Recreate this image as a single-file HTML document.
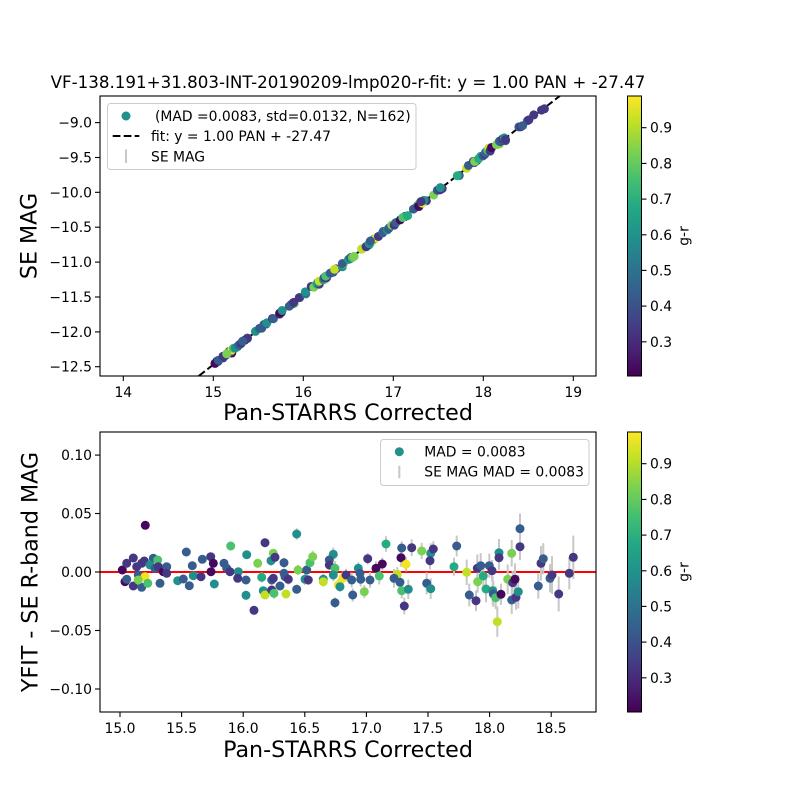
<!DOCTYPE html>
<html><head><meta charset="utf-8">
<style>
html,body{margin:0;padding:0;background:#fff;}
svg{display:block;font-family:"DejaVu Sans","Liberation Sans",sans-serif;}
</style></head><body>
<svg id="s" width="800" height="800" viewBox="0 0 800 800" xmlns="http://www.w3.org/2000/svg">
<defs>
<linearGradient id="vir" x1="0" y1="1" x2="0" y2="0">
<stop offset="0" stop-color="#440154"/>
<stop offset="0.1" stop-color="#482475"/>
<stop offset="0.2" stop-color="#414487"/>
<stop offset="0.3" stop-color="#355f8d"/>
<stop offset="0.4" stop-color="#2a788e"/>
<stop offset="0.5" stop-color="#21918c"/>
<stop offset="0.6" stop-color="#22a884"/>
<stop offset="0.7" stop-color="#44bf70"/>
<stop offset="0.8" stop-color="#7ad151"/>
<stop offset="0.9" stop-color="#bddf26"/>
<stop offset="1" stop-color="#fde725"/>
</linearGradient>
<clipPath id="c1"><rect x="100" y="96" width="496" height="280"/></clipPath>
<clipPath id="c2"><rect x="100" y="432" width="496" height="280"/></clipPath>
</defs>
<rect width="800" height="800" fill="#fff"/>

<!-- Title -->
<text x="348" y="88" font-size="16.7" text-anchor="middle" fill="#000">VF-138.191+31.803-INT-20190209-lmp020-r-fit: y = 1.00 PAN + -27.47</text>

<!-- TOP PANEL -->
<g clip-path="url(#c1)">
<line x1="198.7" y1="376" x2="559.8" y2="96" stroke="#000" stroke-width="2" stroke-dasharray="7.7 3.3"/>
<g id="top"></g>
</g>
<rect x="100" y="96" width="496" height="280" fill="none" stroke="#000" stroke-width="1.1"/>

<g stroke="#000" stroke-width="1.1">
<line x1="123.3" y1="376" x2="123.3" y2="381"/>
<line x1="213.3" y1="376" x2="213.3" y2="381"/>
<line x1="303.3" y1="376" x2="303.3" y2="381"/>
<line x1="393.3" y1="376" x2="393.3" y2="381"/>
<line x1="483.3" y1="376" x2="483.3" y2="381"/>
<line x1="573.3" y1="376" x2="573.3" y2="381"/>
<line x1="95" y1="122.6" x2="100" y2="122.6"/>
<line x1="95" y1="157.5" x2="100" y2="157.5"/>
<line x1="95" y1="192.3" x2="100" y2="192.3"/>
<line x1="95" y1="227.2" x2="100" y2="227.2"/>
<line x1="95" y1="262.1" x2="100" y2="262.1"/>
<line x1="95" y1="297" x2="100" y2="297"/>
<line x1="95" y1="331.9" x2="100" y2="331.9"/>
<line x1="95" y1="366.7" x2="100" y2="366.7"/>
</g>
<g font-size="13.9" fill="#000" text-anchor="middle">
<text x="123.3" y="397">14</text>
<text x="213.3" y="397">15</text>
<text x="303.3" y="397">16</text>
<text x="393.3" y="397">17</text>
<text x="483.3" y="397">18</text>
<text x="573.3" y="397">19</text>
</g>
<g font-size="13.9" fill="#000" text-anchor="end">
<text x="92" y="127.6">−9.0</text>
<text x="92" y="162.5">−9.5</text>
<text x="92" y="197.3">−10.0</text>
<text x="92" y="232.2">−10.5</text>
<text x="92" y="267.1">−11.0</text>
<text x="92" y="302">−11.5</text>
<text x="92" y="336.9">−12.0</text>
<text x="92" y="371.7">−12.5</text>
</g>
<text x="348" y="420" font-size="22.2" text-anchor="middle" fill="#000">Pan-STARRS Corrected</text>
<text transform="translate(36.5,236) rotate(-90)" font-size="22.2" text-anchor="middle" fill="#000">SE MAG</text>

<!-- top legend -->
<rect x="107.5" y="103.5" width="308.5" height="66" rx="3" fill="#fff" fill-opacity="0.8" stroke="#cccccc" stroke-width="1"/>
<circle cx="126" cy="116" r="4.5" fill="#21918c"/>
<text x="155" y="121" font-size="13.9" fill="#000">(MAD =0.0083, std=0.0132, N=162)</text>
<line x1="112.7" y1="136" x2="139.3" y2="136" stroke="#000" stroke-width="2" stroke-dasharray="7.7 3.3"/>
<text x="151" y="141" font-size="13.9" fill="#000">fit: y = 1.00 PAN + -27.47</text>
<line x1="126" y1="149.5" x2="126" y2="163" stroke="#c8c8c8" stroke-width="2"/>
<text x="151" y="161.5" font-size="13.9" fill="#000">SE MAG</text>

<!-- top colorbar -->
<rect x="627.5" y="96" width="14" height="280" fill="url(#vir)" stroke="#000" stroke-width="1"/>
<g stroke="#000" stroke-width="1.1">
<line x1="641.5" y1="127.7" x2="646.5" y2="127.7"/>
<line x1="641.5" y1="163.4" x2="646.5" y2="163.4"/>
<line x1="641.5" y1="199.1" x2="646.5" y2="199.1"/>
<line x1="641.5" y1="234.8" x2="646.5" y2="234.8"/>
<line x1="641.5" y1="270.4" x2="646.5" y2="270.4"/>
<line x1="641.5" y1="306.1" x2="646.5" y2="306.1"/>
<line x1="641.5" y1="341.8" x2="646.5" y2="341.8"/>
</g>
<g font-size="13.9" fill="#000">
<text x="650" y="132.7">0.9</text>
<text x="650" y="168.4">0.8</text>
<text x="650" y="204.1">0.7</text>
<text x="650" y="239.8">0.6</text>
<text x="650" y="275.4">0.5</text>
<text x="650" y="311.1">0.4</text>
<text x="650" y="346.8">0.3</text>
</g>
<text transform="translate(688.5,236) rotate(-90)" font-size="13.9" text-anchor="middle" fill="#000">g-r</text>

<!-- BOTTOM PANEL -->
<g clip-path="url(#c2)">
<line x1="100" y1="572" x2="596" y2="572" stroke="#ff0000" stroke-width="2"/>
<g id="err" stroke="#c8c8c8" stroke-width="2"></g>
<g id="bot"></g>
</g>
<rect x="100" y="432" width="496" height="280" fill="none" stroke="#000" stroke-width="1.1"/>
<g stroke="#000" stroke-width="1.1">
<line x1="120" y1="712" x2="120" y2="717"/>
<line x1="181.6" y1="712" x2="181.6" y2="717"/>
<line x1="243.2" y1="712" x2="243.2" y2="717"/>
<line x1="304.8" y1="712" x2="304.8" y2="717"/>
<line x1="366.4" y1="712" x2="366.4" y2="717"/>
<line x1="428" y1="712" x2="428" y2="717"/>
<line x1="489.6" y1="712" x2="489.6" y2="717"/>
<line x1="551.2" y1="712" x2="551.2" y2="717"/>
<line x1="95" y1="455.1" x2="100" y2="455.1"/>
<line x1="95" y1="513.5" x2="100" y2="513.5"/>
<line x1="95" y1="572" x2="100" y2="572"/>
<line x1="95" y1="630.5" x2="100" y2="630.5"/>
<line x1="95" y1="689" x2="100" y2="689"/>
</g>
<g font-size="13.9" fill="#000" text-anchor="middle">
<text x="120" y="733">15.0</text>
<text x="181.6" y="733">15.5</text>
<text x="243.2" y="733">16.0</text>
<text x="304.8" y="733">16.5</text>
<text x="366.4" y="733">17.0</text>
<text x="428" y="733">17.5</text>
<text x="489.6" y="733">18.0</text>
<text x="551.2" y="733">18.5</text>
</g>
<g font-size="13.9" fill="#000" text-anchor="end">
<text x="92" y="460.1">0.10</text>
<text x="92" y="518.5">0.05</text>
<text x="92" y="577">0.00</text>
<text x="92" y="635.5">−0.05</text>
<text x="92" y="694">−0.10</text>
</g>
<text x="348" y="757" font-size="22.2" text-anchor="middle" fill="#000">Pan-STARRS Corrected</text>
<text transform="translate(37.5,572) rotate(-90)" font-size="22.2" text-anchor="middle" fill="#000">YFIT - SE R-band MAG</text>

<!-- bottom legend -->
<rect x="380.5" y="439.5" width="208.5" height="46" rx="3" fill="#fff" fill-opacity="0.8" stroke="#cccccc" stroke-width="1"/>
<circle cx="399.3" cy="451.7" r="4.5" fill="#21918c"/>
<text x="424.3" y="456.7" font-size="13.9" fill="#000">MAD = 0.0083</text>
<line x1="399.3" y1="465.7" x2="399.3" y2="478.3" stroke="#c8c8c8" stroke-width="2"/>
<text x="424.3" y="476.5" font-size="13.9" fill="#000">SE MAG MAD = 0.0083</text>

<!-- bottom colorbar -->
<rect x="627.5" y="432" width="14" height="280" fill="url(#vir)" stroke="#000" stroke-width="1"/>
<g stroke="#000" stroke-width="1.1">
<line x1="641.5" y1="463.7" x2="646.5" y2="463.7"/>
<line x1="641.5" y1="499.4" x2="646.5" y2="499.4"/>
<line x1="641.5" y1="535.1" x2="646.5" y2="535.1"/>
<line x1="641.5" y1="570.8" x2="646.5" y2="570.8"/>
<line x1="641.5" y1="606.4" x2="646.5" y2="606.4"/>
<line x1="641.5" y1="642.1" x2="646.5" y2="642.1"/>
<line x1="641.5" y1="677.8" x2="646.5" y2="677.8"/>
</g>
<g font-size="13.9" fill="#000">
<text x="650" y="468.7">0.9</text>
<text x="650" y="504.4">0.8</text>
<text x="650" y="540.1">0.7</text>
<text x="650" y="575.8">0.6</text>
<text x="650" y="611.4">0.5</text>
<text x="650" y="647.1">0.4</text>
<text x="650" y="682.8">0.3</text>
</g>
<text transform="translate(688.5,572) rotate(-90)" font-size="13.9" text-anchor="middle" fill="#000">g-r</text>
</svg>
<script>
var P=[
[145.3,525.3,'D'],[122.3,570,'D'],[126.7,563.3,'I'],[133.3,558,'I'],[125,581.7,'D'],[126.7,579.3,'B'],
[133.3,586,'I'],[138.3,575,'B'],[136.7,566.7,'I'],[141.7,587.3,'B'],[144.3,561,'I'],[141.7,563.3,'I'],
[145,576.7,'Y'],[147.7,583.3,'G'],[138.3,580,'LG'],[153.3,558.3,'B'],[157.7,560,'G'],[150,565,'T'],
[155,568.3,'B'],[158.3,566.7,'I'],[163.3,571.7,'D'],[166.7,566.7,'B'],[166.7,573.3,'I'],[160,583.3,'B'],
[177.7,580.7,'T'],[183.3,579,'B'],[186.3,552,'B'],[189.3,585.7,'B'],[192.3,565.7,'B'],[193.3,575.7,'T'],
[201,576.7,'I'],[202.3,559.3,'B'],[210.7,556.7,'I'],[213.3,563.3,'D'],[211,571.7,'D'],[214.3,584,'T'],
[224,563.3,'B'],[230.7,546,'G'],[226.7,568.3,'B'],[230,571.7,'I'],[238.3,571.7,'T'],[237.7,578.3,'I'],
[246.7,554.7,'T'],[246,580,'B'],[246,595.3,'T'],[254,610.3,'I'],[257.7,563.3,'LG'],[261.7,577.3,'TG'],
[265,542.7,'I'],[263.3,590.7,'T'],[265,595,'YG'],[271,560.7,'T'],[271.7,590,'I'],[273.3,553.3,'LG'],
[271.7,580,'B'],[275,557.3,'I'],[273.3,578.3,'I'],[274,593.3,'G'],
[284,562.7,'B'],[284,573.3,'B'],[285,576.7,'B'],[288.3,579.3,'I'],[280,586,'B'],[286,594,'YG'],
[296.7,534,'T'],[298,570,'LG'],[296.7,589.3,'B'],[306.7,570,'B'],[305,579.3,'T'],[308.3,580,'I'],
[310,562.7,'G'],[312.7,556.7,'LG'],[323.3,579.3,'T'],[323.3,581.7,'YG'],[333.3,554.3,'T'],[329.3,560,'B'],
[329.3,565,'I'],[335,568.3,'G'],[333.3,575,'T'],[338.3,585,'Y'],[340,586.7,'T'],[342.7,578.3,'Y'],
[346,575,'I'],[335,602.7,'B'],[351.7,580,'B'],[352.7,595,'B'],[358.3,568.3,'T'],[360,573.3,'B'],
[360.7,579.3,'B'],[364.3,591.7,'LG'],[367.7,558.7,'I'],[370,580,'B'],[376,568.3,'D'],[382.3,564,'D'],
[379.3,576,'G'],[386,544,'TG'],[397.3,574.3,'YG'],[394,578.3,'B'],[400,582.3,'B'],[401.7,590.7,'G'],
[401.7,548,'B'],[401,557.7,'D'],[411.7,547.7,'I'],[406,564.3,'Y'],[408.3,589.3,'T'],[404.3,606,'I'],
[421.7,551,'LG'],[426.7,583.3,'B'],[430.7,553.3,'T'],[430,560.7,'I'],[433.3,549,'I'],[430.7,588.7,'T'],
[456.7,546,'B'],[454,566.7,'TG'],[466.7,572.3,'YG'],[469.3,595,'B'],[476,600.7,'I'],[477.3,568.3,'I'],
[480.7,565.7,'B'],[477.7,581.7,'LG'],[483.3,576,'TG'],[486,589,'TG'],[489.3,565.7,'B'],[492,570.7,'I'],
[492.7,590.7,'T'],[493.3,594,'B'],[495.7,597.7,'G'],[497.3,621.7,'YG'],[499,552.7,'T'],[499,557.7,'I'],
[501,594.3,'D'],[507.7,579.3,'LG'],[511.7,553.3,'LG'],[512.7,582.7,'I'],[515,579.3,'D'],[511.7,600,'B'],
[516,597.3,'I'],[518.3,591.7,'T'],[520,528.7,'B'],[520,546.7,'I'],[538.3,586,'B'],[541,563.3,'I'],
[543.3,558.7,'B'],[550,578.3,'B'],[552,575,'I'],[558.7,594,'I'],[569.3,573.3,'I'],[573.3,557.3,'I']
];
var C={D:'#46085c',I:'#453781',B:'#365d8d',T:'#21908d',TG:'#25ab82',G:'#4ac16d',LG:'#7ad151',YG:'#c2df23',Y:'#f1e51d'};
var NS='http://www.w3.org/2000/svg';
function el(tag,a,parent){var e=document.createElementNS(NS,tag);for(var k in a)e.setAttribute(k,a[k]);parent.appendChild(e);return e;}
var gt=document.getElementById('top'),ge=document.getElementById('err'),gb=document.getElementById('bot');
for(var i=0;i<P.length;i++){
 var bx=P[i][0],by=P[i][1],c=C[P[i][2]];
 var X=15+(bx-120)/123.2;
 var e=15*Math.pow(10,0.25*(X-18.3))*(0.8+0.4*((i*37)%10)/10);
 el('line',{x1:bx,x2:bx,y1:(by-e).toFixed(2),y2:(by+e).toFixed(2)},ge);
 el('circle',{cx:bx,cy:by,r:4.5,fill:c},gb);
 el('circle',{cx:(0.7305*bx+125.64).toFixed(2),cy:(-0.5662*bx-0.05967*by+466.67).toFixed(2),r:4.5,fill:c},gt);
}
</script>
</body></html>
